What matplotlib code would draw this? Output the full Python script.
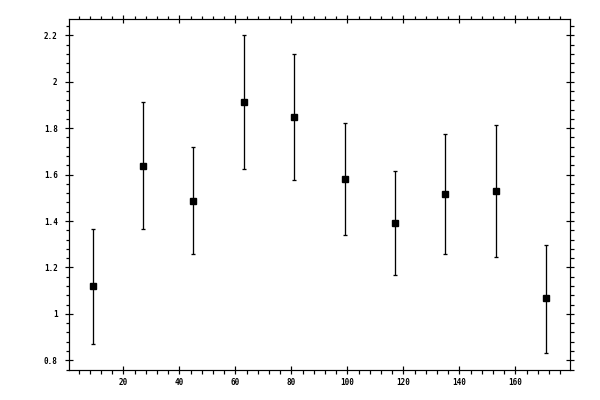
import matplotlib

matplotlib.use("Agg")

import matplotlib.pyplot as plt  # noqa: E402
from matplotlib.ticker import MultipleLocator  # noqa: E402

# values
x_vals = [9, 27, 45, 63, 81, 99, 117, 135, 153, 171]
y_vals = [1.120, 1.636, 1.485, 1.911, 1.847, 1.580, 1.390, 1.515, 1.528, 1.067]
y_low = [0.870, 1.364, 1.257, 1.623, 1.575, 1.339, 1.166, 1.257, 1.244, 0.832]
y_high = [1.364, 1.913, 1.718, 2.200, 2.118, 1.820, 1.617, 1.774, 1.812, 1.298]

err_lo = [y - lo for y, lo in zip(y_vals, y_low)]
err_hi = [hi - y for y, hi in zip(y_vals, y_high)]

px = 72 / 100  # one pixel in points

fig = plt.figure(figsize=(6, 4), dpi=100)
ax = fig.add_axes([69.3 / 600, 1 - 370.3 / 400, 501 / 600, 351.3 / 400])

# note: markeredgewidth here would also hit the caps, so leave it alone
ax.errorbar(x_vals, y_vals, yerr=[err_lo, err_hi], fmt="s", color="black",
            markersize=5.6 * px, elinewidth=1.3 * px, capsize=2.5 * px,
            capthick=1.3 * px)

ax.set_xlim(0.7, 179.6)
ax.set_ylim(0.757, 2.27)

ax.xaxis.set_major_locator(MultipleLocator(20))
ax.xaxis.set_minor_locator(MultipleLocator(4))
ax.yaxis.set_major_locator(MultipleLocator(0.2))
ax.yaxis.set_minor_locator(MultipleLocator(0.04))
ax.yaxis.set_major_formatter(lambda v, pos: f"{v:.1f}".rstrip("0").rstrip("."))

for spine in ax.spines.values():
    spine.set_linewidth(1.2 * px)

ax.tick_params(which="major", direction="inout", length=8 * px, width=1.2 * px,
               top=True, right=True, labelsize=5.5)
ax.tick_params(which="minor", direction="out", length=3.5 * px, width=1.2 * px,
               top=True, right=True)
ax.tick_params(axis="x", which="major", pad=3)
ax.tick_params(axis="y", which="major", pad=5.5)

for lab in ax.get_xticklabels() + ax.get_yticklabels():
    lab.set_family("DejaVu Sans Mono")
    lab.set_fontweight("bold")

fig.savefig("out.png", dpi=100)
